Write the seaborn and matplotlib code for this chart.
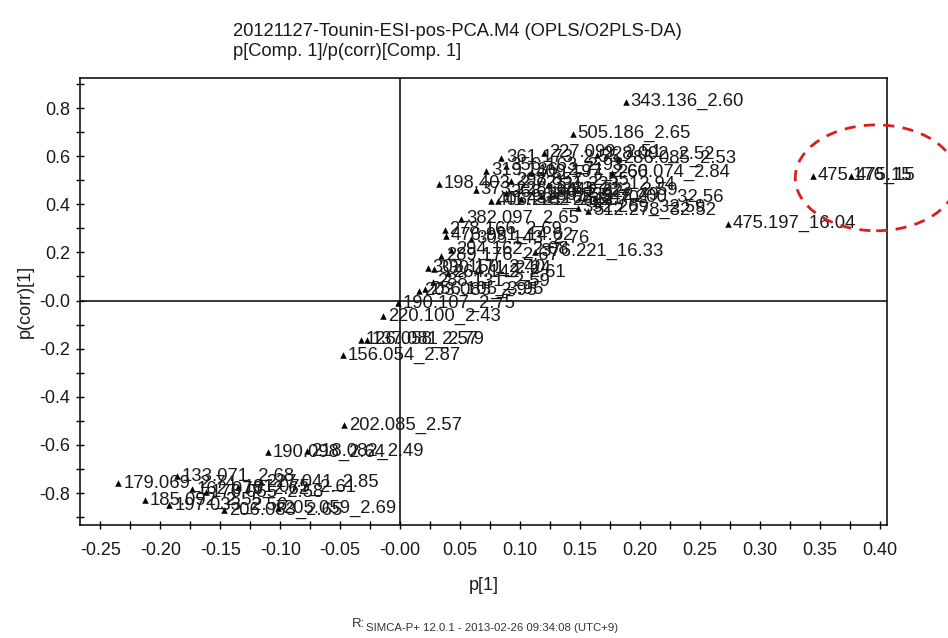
import matplotlib
matplotlib.use("Agg")
import matplotlib.pyplot as plt
import seaborn as sns
import pandas as pd
from matplotlib.patches import Ellipse
from matplotlib.ticker import FixedLocator, FixedFormatter, MultipleLocator

# ---- data ----
labels = [
    "343.136_2.60", "505.186_2.65", "227.099_2.51", "361.173_2.55", "356.163_2.93",
    "228.092_2.52", "286.085_2.53", "260.074_2.84", "198.403_2.72", "373.228_2.63",
    "298.857_2.55", "331.223_12.94", "406.221_2.58", "417.182_2.61", "432.165_2.70",
    "389.233_2.49", "547.200_32.56", "352.269_32.59", "512.278_32.52", "382.097_2.65",
    "278.166_2.69", "476.991_14.62", "305.143_2.76", "289.176_2.67", "376.221_16.33",
    "294.162_2.08", "302.150_2.40", "330.171_2.24", "264.142_2.61", "288.131_2.59",
    "203.085_2.95", "256.105_3.95", "190.107_2.75", "220.100_2.43", "126.058_2.57",
    "137.081_2.79", "156.054_2.87", "202.085_2.57", "190.098_2.64", "218.082_2.49",
    "179.069_2.74", "133.071_2.68", "227.041_2.85", "185.092_2.55", "197.033_2.56",
    "206.083_2.65", "205.059_2.69", "162.076_2.62", "176.055_2.58", "191.075_2.61",
    "475.197_16.04", "475.176_15", "475.15", "319.136_2.71", "409.197_2.66",
    "445.222_2.59", "368.190_2.62",
]
p1 = [
    0.188, 0.144, 0.120, 0.084, 0.088,
    0.164, 0.182, 0.177, 0.0325, 0.063,
    0.0925, 0.123, 0.076, 0.082, 0.101,
    0.1175, 0.1625, 0.148, 0.157, 0.051,
    0.037, 0.038, 0.059, 0.034, 0.1125,
    0.0425, 0.023, 0.028, 0.040, 0.027,
    0.016, 0.021, -0.0017, -0.014, -0.0325,
    -0.0275, -0.048, -0.0467, -0.110, -0.078,
    -0.235, -0.186, -0.116, -0.213, -0.1925,
    -0.147, -0.1017, -0.174, -0.162, -0.135,
    0.273, 0.344, 0.376, 0.072, 0.109,
    0.134, 0.088,
]
pcorr = [
    0.826, 0.693, 0.614, 0.593, 0.560,
    0.606, 0.589, 0.531, 0.485, 0.461,
    0.498, 0.481, 0.415, 0.415, 0.423,
    0.436, 0.427, 0.386, 0.373, 0.340,
    0.295, 0.270, 0.257, 0.187, 0.203,
    0.212, 0.137, 0.133, 0.116, 0.079,
    0.041, 0.046, -0.012, -0.066, -0.162,
    -0.162, -0.228, -0.519, -0.631, -0.627,
    -0.759, -0.730, -0.755, -0.830, -0.851,
    -0.871, -0.863, -0.784, -0.797, -0.776,
    0.320, 0.519, 0.519, 0.539, 0.531,
    0.456, 0.448,
]
x_ticks = [-0.25, -0.20, -0.15, -0.10, -0.05, 0.00, 0.05, 0.10, 0.15, 0.20, 0.25, 0.30, 0.35, 0.40]
x_ticklabels = ["-0.25", "-0.20", "-0.15", "-0.10", "-0.05", "-0.00", "0.05", "0.10",
                "0.15", "0.20", "0.25", "0.30", "0.35", "0.40"]
y_ticks = [0.8, 0.6, 0.4, 0.2, 0.0, -0.2, -0.4, -0.6, -0.8]
y_ticklabels = ["0.8", "0.6", "0.4", "0.2", "-0.0", "-0.2", "-0.4", "-0.6", "-0.8"]

title_line1 = "20121127-Tounin-ESI-pos-PCA.M4 (OPLS/O2PLS-DA)"
title_line2 = "p[Comp. 1]/p(corr)[Comp. 1]"
footer = "SIMCA-P+ 12.0.1 - 2013-02-26 09:34:08 (UTC+9)"

df = pd.DataFrame({"label": labels, "p1": p1, "pcorr": pcorr})

# ---- figure ----
sns.set_theme(style="white")
plt.rcParams["font.family"] = ["Liberation Sans", "DejaVu Sans"]

fig = plt.figure(figsize=(9.48, 6.38), dpi=100)
ax = fig.add_axes([80 / 948, 1 - 525 / 638, (887 - 80) / 948, (525 - 78) / 638])

ax.axhline(0, color="black", lw=1.1, zorder=1)
ax.axvline(0, color="black", lw=1.1, zorder=1)

sns.scatterplot(data=df, x="p1", y="pcorr", marker="^", color="black",
                s=22, linewidth=0, ax=ax, zorder=3, legend=False)

for lab, xv, yv in zip(df["label"], df["p1"], df["pcorr"]):
    ax.annotate(lab, (xv, yv), xytext=(3.5, 0), textcoords="offset points",
                va="center", ha="left", fontsize=13.3, color="#1a1a1a",
                annotation_clip=False, zorder=4)

ax.set_xlim(-0.267, 0.406)
ax.set_ylim(-0.933, 0.925)

ax.xaxis.set_major_locator(FixedLocator(x_ticks))
ax.xaxis.set_major_formatter(FixedFormatter(x_ticklabels))
ax.xaxis.set_minor_locator(MultipleLocator(0.025))
ax.yaxis.set_major_locator(FixedLocator(y_ticks))
ax.yaxis.set_major_formatter(FixedFormatter(y_ticklabels))
ax.yaxis.set_minor_locator(MultipleLocator(0.1))

ax.tick_params(which="both", direction="inout", length=6, width=1, color="black",
               bottom=True, left=True, top=False, right=False)
ax.tick_params(which="major", labelsize=13, labelcolor="#1a1a1a")
ax.tick_params(axis="x", which="major", pad=9)
ax.tick_params(axis="y", which="major", pad=4)

for sp in ax.spines.values():
    sp.set_color("black")
    sp.set_linewidth(1.1)

ax.set_xlabel("p[1]", fontsize=13, color="#1a1a1a", labelpad=13)
ax.set_ylabel("p(corr)[1]", fontsize=13, color="#1a1a1a", labelpad=4)
ax.grid(False)

# title lines
fig.text(233 / 948, 1 - 31 / 638, title_line1, fontsize=13.2, ha="left", va="center",
         color="#1a1a1a")
fig.text(233 / 948, 1 - 51 / 638, title_line2, fontsize=13.2, ha="left", va="center",
         color="#1a1a1a")

# footer
fig.text(352 / 948, 1 - 630 / 638, "R:", fontsize=9.5, ha="left", va="bottom", color="#333333")
fig.text(366 / 948, 1 - 633 / 638, footer, fontsize=8.2, ha="left", va="bottom",
         color="#333333")

# red dashed ellipse annotation (data coords)
ell = Ellipse((0.397, 0.51), 0.135, 0.44, fill=False, edgecolor="#d62020",
              linestyle=(0, (4, 3)), linewidth=2, clip_on=False, zorder=5)
ax.add_patch(ell)

fig.savefig("out.png", dpi=100)
